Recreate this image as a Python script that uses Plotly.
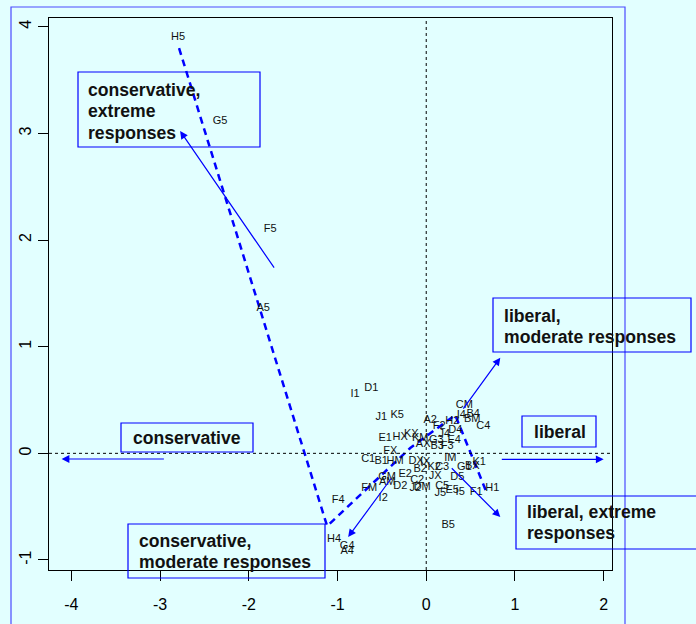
import plotly.graph_objects as go

# ---------------- data ----------------
labels = ["H5","G5","F5","A5","I1","D1","J1","K5","A2","F2","H2","CM","I4","B4","BM","C4","D4",
          "AX","G3","J4","E4","B3","F3","HX","KX","KM","E1","FX","C1","B1","HM","DX","IX","B2",
          "E2","C2","GM","AM","D2","J2","DM","I2","FM","F4","H4","G4","A4","B5","K2","C3","JX",
          "IM","D5","G1","BX","K1","H1","F1","I5","E5","C5","J5"]
label_x = [-2.797,-2.323,-1.759,-1.838,-0.801,-0.620,-0.507,-0.327,0.045,0.147,0.293,0.429,0.395,0.530,0.519,0.643,0.327,
           -0.034,0.113,0.203,0.316,0.124,0.237,-0.293,-0.169,-0.068,-0.462,-0.406,-0.654,-0.507,-0.350,-0.113,-0.011,-0.068,
           -0.237,-0.102,-0.440,-0.440,-0.293,-0.124,-0.045,-0.485,-0.643,-0.992,-1.038,-0.891,-0.891,0.248,0.090,0.180,0.101,
           0.271,0.350,0.429,0.519,0.598,0.744,0.564,0.383,0.293,0.180,0.158]
label_y = [3.903,3.116,2.103,1.362,0.556,0.612,0.340,0.359,0.312,0.256,0.303,0.453,0.359,0.368,0.322,0.256,0.218,
           0.087,0.125,0.181,0.125,0.068,0.068,0.153,0.181,0.143,0.143,0.022,-0.053,-0.072,-0.072,-0.072,-0.082,-0.147,
           -0.194,-0.250,-0.222,-0.269,-0.307,-0.325,-0.316,-0.419,-0.325,-0.438,-0.804,-0.869,-0.916,-0.672,-0.128,-0.128,-0.213,
           -0.044,-0.222,-0.128,-0.119,-0.082,-0.325,-0.363,-0.363,-0.344,-0.307,-0.372]

# dashed trajectory
traj_x = [-2.786, -1.117, -0.180, 0.327, 0.688]
traj_y = [3.800, -0.682, 0.050, 0.359, -0.382]

# arrows: tail -> head
arrow_names = ["conservative", "liberal", "liberal, moderate", "liberal, extreme",
               "conservative, moderate", "conservative, extreme"]
arrow_tail_x = [-2.94, 0.835, 0.406, 0.271, -0.383, -1.703]
arrow_tail_y = [-0.053, -0.056, 0.406, -0.126, -0.222, 1.727]
arrow_head_x = [-4.11, 2.00, 0.835, 0.835, -0.880, -2.774]
arrow_head_y = [-0.053, -0.056, 0.896, -0.597, -0.785, 3.022]

box_lines = [["conservative,", "extreme", "responses"], ["conservative"], ["liberal"],
             ["liberal,", "moderate responses"], ["liberal, extreme", "responses"],
             ["conservative,", "moderate responses"]]

x_ticks = [-4, -3, -2, -1, 0, 1, 2]
y_ticks = [-1, 0, 1, 2, 3, 4]

# ---------------- layout geometry (pixels) ----------------
W, H = 696, 624
L, R, T, B = 49, 612, 18, 570
def px(x): return (x - L) / (R - L)
def py(y): return (B - y) / (B - T)

# box rectangles (x0, y0, x1, y1) and text (left x, first line center y) in pixels
boxes = [(78, 72, 260, 147), (121, 423, 253, 452), (522, 416, 596, 447),
         (493, 298, 691, 352), (516, 496, 720, 549), (128, 524, 325, 578)]
text_pos = [(86, 90), (131, 438), (532, 432), (502, 316), (525, 512), (137, 541)]
LINE_GAP = 21.3

BLUE = "#0000ff"
BG = "#e2ffff"
FONT = "Arial, Liberation Sans, sans-serif"

fig = go.Figure()

fig.add_trace(go.Scatter(x=traj_x, y=traj_y, mode="lines",
                         line=dict(color=BLUE, width=2.5, dash="7px,5px"),
                         hoverinfo="skip", showlegend=False))

fig.add_trace(go.Scatter(x=label_x, y=label_y, mode="text", text=labels,
                         textposition="middle center",
                         textfont=dict(family=FONT, size=11, color="#111111"),
                         showlegend=False))

shapes = []
# dotted reference lines
shapes.append(dict(type="line", xref="x", yref="paper", x0=0, x1=0, y0=0, y1=1,
                   line=dict(color="black", width=1, dash="dot")))
shapes.append(dict(type="line", xref="paper", yref="y", x0=0, x1=1, y0=0, y1=0,
                   line=dict(color="black", width=1, dash="dot")))
# outer frame
shapes.append(dict(type="rect", xref="paper", yref="paper",
                   x0=px(11), x1=px(625), y0=py(7), y1=py(640),
                   line=dict(color="#4a4aff", width=1.2), fillcolor="rgba(0,0,0,0)"))
for (x0, y0, x1, y1) in boxes:
    shapes.append(dict(type="rect", xref="paper", yref="paper",
                       x0=px(x0), x1=px(x1), y0=py(y1), y1=py(y0),
                       line=dict(color=BLUE, width=1.2), fillcolor="rgba(0,0,0,0)"))

annotations = []
for lines, (ax_, ay_) in zip(box_lines, text_pos):
    for k, ln in enumerate(lines):
        annotations.append(dict(xref="paper", yref="paper", x=px(ax_), y=py(ay_ + k * LINE_GAP),
                                text="<b>" + ln + "</b>", showarrow=False,
                                xanchor="left", yanchor="middle", align="left",
                                font=dict(family=FONT, size=17.6, color="#111111")))
for i in range(len(arrow_names)):
    annotations.append(dict(xref="x", yref="y", axref="x", ayref="y",
                            x=arrow_head_x[i], y=arrow_head_y[i],
                            ax=arrow_tail_x[i], ay=arrow_tail_y[i],
                            text="", showarrow=True, arrowhead=2, arrowsize=1.3,
                            arrowwidth=1.2, arrowcolor=BLUE, standoff=0, startstandoff=0))

fig.update_layout(
    width=W, height=H,
    margin=dict(l=L, r=W - R, t=T, b=H - B, pad=0),
    paper_bgcolor=BG, plot_bgcolor=BG,
    shapes=shapes, annotations=annotations,
    font=dict(family=FONT, color="black"),
)
fig.update_xaxes(range=[-4.252, 2.094], tickvals=x_ticks, ticktext=[str(v) for v in x_ticks],
                 showgrid=False, zeroline=False, showline=True, linecolor="black", linewidth=1,
                 mirror=True, ticks="outside", ticklen=10, tickcolor="black",
                 tickfont=dict(family=FONT, size=16, color="black"), ticklabelstandoff=10)
fig.update_yaxes(range=[-1.094, 4.082], tickvals=y_ticks, ticktext=[str(v) for v in y_ticks],
                 showgrid=False, zeroline=False, showline=True, linecolor="black", linewidth=1,
                 mirror=True, ticks="outside", ticklen=10, tickcolor="black", tickangle=-90,
                 tickfont=dict(family=FONT, size=16, color="black"), ticklabelstandoff=1)

fig.write_html("out.html", config={"displayModeBar": False},
               post_script="document.body.style.margin='0';document.body.style.background='" + BG + "';")
